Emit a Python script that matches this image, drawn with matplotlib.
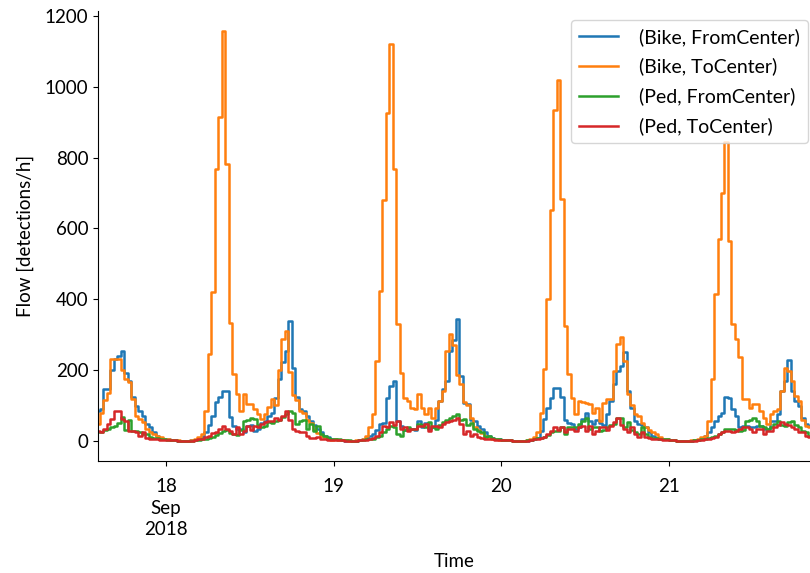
import numpy as np
import pandas as pd
import matplotlib
matplotlib.use("Agg")
import matplotlib.pyplot as plt

plt.rcParams['font.family'] = ['Lato', 'DejaVu Sans']
plt.rcParams['font.size'] = 13.5

# half-hourly flows, Sep 17 14:00 .. Sep 21 20:30
bike_from = (
    # Sep 17 (14:00-23:30)
    [85, 90, 146, 146, 200, 230, 240, 255, 193, 170, 124, 99, 85, 71, 47, 38, 24, 14, 9, 5]
    # Sep 18
    + [4, 3, 2, 1, 1, 1, 1, 2, 3, 5, 10, 25, 45, 70, 110, 124, 141, 141, 68, 42,
       33, 33, 24, 42, 45, 28, 35, 50, 56, 71, 80, 120, 175, 222, 255, 338, 207, 124, 90, 85,
       71, 56, 45, 33, 24, 14, 10, 6]
    # Sep 19
    + [4, 3, 2, 1, 1, 1, 1, 2, 4, 8, 14, 20, 30, 47, 50, 120, 156, 170, 56, 42,
       30, 35, 33, 30, 56, 40, 50, 35, 40, 60, 113, 146, 170, 255, 285, 345, 184, 108, 104, 60,
       56, 42, 33, 24, 14, 9, 5, 4]
    # Sep 20
    + [3, 2, 2, 1, 1, 1, 1, 1, 3, 5, 9, 28, 61, 94, 121, 150, 150, 124, 60, 50,
       47, 33, 38, 61, 80, 56, 47, 60, 50, 45, 75, 113, 160, 198, 212, 250, 141, 94, 56, 47,
       45, 38, 24, 14, 9, 6, 5, 4]
    # Sep 21 (00:00-20:30)
    + [3, 2, 1, 1, 1, 1, 1, 2, 3, 5, 14, 24, 38, 56, 71, 80, 124, 120, 90, 71,
       38, 42, 42, 40, 38, 42, 42, 35, 33, 56, 56, 75, 141, 170, 228, 141, 113, 99, 66, 47,
       42, 35]
)
bike_to = (
    [47, 80, 115, 135, 230, 232, 232, 200, 175, 165, 118, 70, 62, 52, 33, 25, 19, 14, 10, 6]
    + [4, 3, 2, 2, 1, 1, 1, 2, 4, 10, 20, 85, 246, 420, 769, 915, 1156, 783, 332, 190,
       132, 85, 132, 104, 104, 90, 76, 62, 76, 95, 118, 100, 200, 288, 311, 195, 130, 115, 85, 80,
       60, 50, 30, 22, 15, 10, 5, 3]
    + [4, 3, 2, 2, 1, 1, 2, 3, 6, 15, 38, 75, 226, 424, 679, 926, 1121, 769, 330, 193,
       122, 113, 94, 90, 132, 94, 75, 94, 66, 94, 113, 141, 254, 301, 270, 185, 160, 110, 100, 65,
       40, 30, 22, 15, 10, 6, 4, 3]
    + [3, 2, 2, 1, 1, 1, 1, 2, 4, 10, 25, 80, 202, 400, 651, 934, 1019, 684, 325, 189,
       120, 75, 113, 110, 108, 105, 80, 94, 56, 108, 118, 118, 198, 274, 293, 226, 132, 100, 75, 70,
       50, 38, 30, 24, 19, 10, 6, 4]
    + [3, 2, 1, 1, 1, 1, 2, 3, 5, 10, 14, 56, 175, 415, 570, 700, 845, 565, 330, 288,
       237, 118, 118, 94, 104, 104, 85, 66, 47, 75, 85, 90, 141, 207, 198, 170, 127, 113, 60, 42,
       38, 30]
)
ped_from = (
    [24, 24, 30, 33, 38, 42, 50, 68, 30, 60, 28, 28, 25, 19, 19, 12, 9, 7, 5, 4]
    + [3, 2, 2, 1, 1, 1, 1, 1, 2, 3, 4, 6, 9, 12, 18, 22, 28, 30, 22, 20,
       18, 30, 56, 60, 64, 62, 45, 40, 42, 52, 50, 56, 60, 68, 75, 85, 80, 47, 55, 60,
       33, 47, 28, 42, 19, 14, 9, 6]
    + [5, 4, 3, 2, 2, 1, 1, 2, 3, 4, 5, 6, 10, 15, 24, 33, 42, 38, 20, 14,
       30, 38, 35, 33, 47, 45, 38, 52, 40, 35, 45, 52, 60, 65, 71, 75, 60, 62, 45, 50,
       35, 28, 24, 12, 14, 8, 5, 4]
    + [3, 2, 2, 1, 1, 1, 1, 2, 3, 5, 7, 9, 12, 18, 24, 28, 28, 38, 20, 38,
       38, 40, 47, 56, 66, 35, 38, 38, 28, 30, 38, 45, 47, 66, 66, 38, 52, 30, 24, 20,
       38, 20, 12, 9, 8, 6, 5, 4]
    + [3, 2, 1, 1, 1, 1, 1, 2, 3, 4, 5, 7, 10, 14, 19, 24, 33, 33, 33, 30,
       28, 30, 56, 60, 64, 56, 42, 38, 33, 38, 47, 56, 45, 42, 52, 56, 45, 38, 28, 24,
       14, 10]
)
ped_to = (
    [28, 24, 33, 47, 62, 85, 85, 62, 55, 28, 28, 24, 14, 24, 9, 5, 5, 4, 3, 3]
    + [3, 2, 2, 1, 1, 1, 1, 1, 2, 4, 6, 10, 15, 22, 25, 33, 42, 35, 28, 19,
       38, 19, 28, 42, 30, 42, 38, 47, 52, 56, 56, 64, 60, 71, 85, 60, 33, 28, 24, 24,
       14, 9, 9, 12, 5, 4, 3, 3]
    + [3, 2, 2, 1, 1, 1, 1, 2, 2, 3, 5, 8, 14, 24, 42, 38, 52, 45, 56, 33,
       38, 28, 33, 33, 42, 42, 47, 28, 42, 42, 38, 47, 52, 56, 60, 65, 48, 20, 28, 14,
       20, 10, 8, 6, 5, 4, 3, 3]
    + [3, 2, 2, 1, 1, 1, 1, 1, 2, 4, 6, 9, 12, 19, 28, 38, 30, 38, 24, 33,
       35, 28, 38, 42, 28, 42, 20, 28, 38, 38, 30, 42, 52, 66, 45, 35, 24, 38, 19, 12,
       24, 12, 9, 6, 5, 4, 3, 3]
    + [3, 2, 1, 1, 1, 1, 1, 1, 2, 3, 5, 6, 9, 12, 19, 24, 28, 28, 24, 28,
       33, 38, 38, 33, 24, 33, 33, 19, 28, 28, 38, 45, 52, 47, 45, 38, 35, 24, 24, 14,
       10, 8]
)

labels = ["(Bike, FromCenter)", "(Bike, ToCenter)", "(Ped, FromCenter)", "(Ped, ToCenter)"]
colors = ["#1f77b4", "#ff7f0e", "#2ca02c", "#d62728"]
series = [bike_from, bike_to, ped_from, ped_to]

times = pd.date_range("2018-09-17 14:00", periods=len(bike_from), freq="30min")
day_ticks = pd.to_datetime(["2018-09-18", "2018-09-19", "2018-09-20", "2018-09-21"])
day_labels = ["18\nSep\n2018", "19", "20", "21"]

fig = plt.figure(figsize=(8.1, 5.73), dpi=100)
ax = fig.add_axes([98 / 810, 112 / 573, 712 / 810, 450 / 573])

for vals, lab, col in zip(series, labels, colors):
    ax.step(times, vals, where="post", label=lab, color=col, lw=1.8)

ax.set_xlim(pd.Timestamp("2018-09-17 14:15"), pd.Timestamp("2018-09-21 20:15"))
ax.set_xticks(day_ticks)
ax.set_xticklabels(day_labels, linespacing=1.3)
ax.tick_params(axis="x", pad=9)
ax.set_yticks([0, 200, 400, 600, 800, 1000, 1200])
ax.set_xlabel("Time", labelpad=11)
ax.set_ylabel("Flow [detections/h]", labelpad=8)
ax.spines["top"].set_visible(False)
ax.spines["right"].set_visible(False)
ax.legend(loc="upper right", bbox_to_anchor=(0.997, 0.98), borderaxespad=0,
          fontsize=14, labelspacing=0.62, handletextpad=1.1)

fig.savefig("out.png", dpi=100)
